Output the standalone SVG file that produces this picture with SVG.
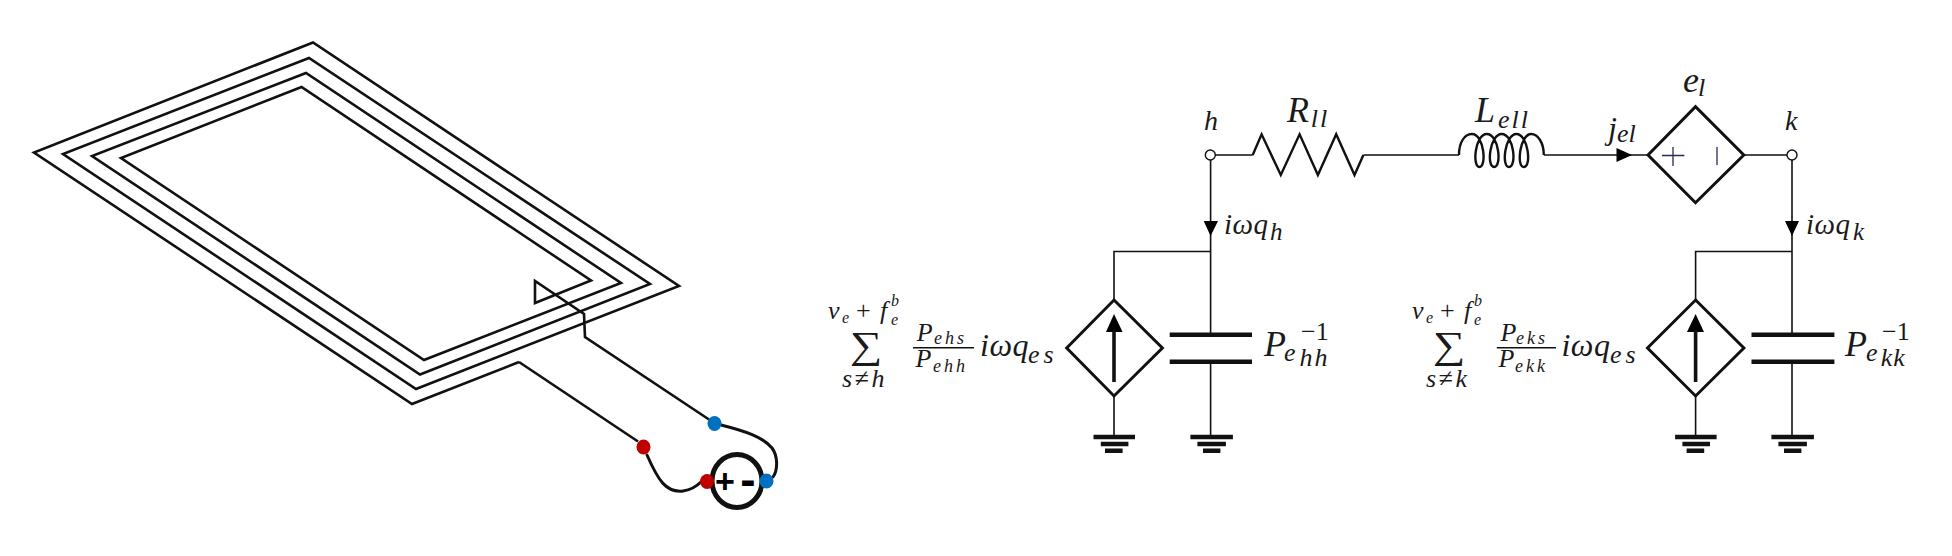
<svg xmlns="http://www.w3.org/2000/svg" xmlns:xlink="http://www.w3.org/1999/xlink" width="1952" height="556" viewBox="0 0 1952 556">
<style>
text{font-family:"Liberation Serif","Times New Roman",serif;fill:#1a1a1a}
.i{font-style:italic}
.w{fill:none;stroke:#111;stroke-width:1.6}
.d{fill:#fff;stroke:#111;stroke-width:3;stroke-linejoin:miter}
.t{fill:none;stroke:#111;stroke-width:2.4;stroke-linejoin:miter}
.p{fill:none;stroke:#111;stroke-width:4.4}
.f{fill:#000}
.s{fill:none;stroke:#111;stroke-width:2.6;stroke-linejoin:miter}
.lead{fill:none;stroke:#111;stroke-width:3;stroke-linecap:round}
.r{fill:#c00000}.b{fill:#0070c0}
.s1{font-size:29px;letter-spacing:.5px}.s2{font-size:25px}.s3{font-size:26px}.s4{font-size:36px}.s5{font-size:26px}.s6{font-size:18px;letter-spacing:3px}.s7{font-size:32px;letter-spacing:.5px}.s8{font-size:16px}.s9{font-size:26px;letter-spacing:2.5px}
.pm{font-family:"Liberation Sans",Arial,sans-serif;font-weight:700;fill:#000;text-anchor:middle}
</style>
<defs>
<g id="gnd-l"><path class="p" d="M-20.5 0H21M-13.2 7H14.4M-9 13.7H8.6"/></g>
<g id="gnd-r"><path class="p" d="M-20.6 0H21.9M-13.6 7H14.9M-8 13.7H9.4"/></g>
</defs>

<g id="coil">
<path class="s" d="M519 362L412 404L34 152.5L313 42.5L679 286L416 389L63 154L309 58L650 284L420 374.5L92 156L306 73L621 283L424 360L121 158L301.5 87L591 280.5L535 303V281L584 314L585 337L709 419.5"/>
<path class="s" d="M519 362L638 441.5"/>
</g>
<g id="source">
<path class="lead" d="M647 455C658 480 666 493 683 491C691 490 698 485 702 481"/>
<path class="lead" d="M721 425C745 431 763 437 772 448C778 456 778 470 773 477"/>
<ellipse cx="737" cy="481" rx="25" ry="26.5" fill="#fff" stroke="#111" stroke-width="5"/>
<text class="pm" font-size="34" x="725" y="493">+</text>
<text class="pm" font-size="46" x="748" y="495">-</text>
<ellipse class="b" cx="714.5" cy="423.5" rx="7" ry="7.5"/>
<ellipse class="r" cx="643.5" cy="447" rx="7" ry="7.5"/>
<ellipse class="r" cx="707" cy="481.5" rx="7" ry="7.5"/>
<ellipse class="b" cx="766.5" cy="481" rx="7" ry="7.5"/>
</g>

<g id="connectors">
<path class="w" d="M1215 155H1252.7M1363.4 155H1459M1543.8 155H1648M1743.8 155H1787"/>
<path class="w" d="M1210.6 160V334M1210.6 362V437M1210.6 251.5H1114V300M1114 396V437"/>
<path class="w" d="M1792 160V334M1792 362V437M1792 251.5H1695.6V300M1695.6 396V437"/>
<path class="f" d="M1203.7 221H1218L1210.6 236ZM1785 221H1799L1792 236ZM1616.5 148L1632 155L1616.5 162Z"/>
</g>

<g id="node-h"><circle cx="1210.3" cy="155" r="5" fill="#fff" stroke="#111" stroke-width="1.4"/><text class="i" font-size="28" x="1204" y="130">h</text></g>
<g id="node-k"><circle cx="1792" cy="155" r="5" fill="#fff" stroke="#111" stroke-width="1.4"/><text class="i" font-size="28" x="1785" y="130">k</text></g>

<g id="resistor"><path class="t" d="M1252.7 155L1261.6 134.3L1280.8 175L1299.6 134.3L1317.9 175L1336.2 134.3L1354.5 175L1363.4 155"/>
<text class="i s4" x="1287" y="121.7">R</text><text class="i s5" x="1310.7" y="126.7" style="letter-spacing:2px">ll</text></g>

<g id="inductor"><path class="t" d="M1459 155C1459 143 1464 134 1472 134C1484 134 1487 167 1479.4 167C1472 167 1475 134 1486.8 134C1499 134 1502 167 1494.2 167C1486 167 1490 134 1501.6 134C1514 134 1517 167 1509 167C1501 167 1505 134 1516.4 134C1528 134 1532 167 1523.8 167C1516 167 1520 134 1531.2 134C1538 134 1543.8 143 1543.8 155"/>
<text class="i s4" x="1475" y="122">L</text><text class="i s5" x="1498" y="128" style="letter-spacing:2px">ell</text></g>

<g id="current-jel"><text class="i s7" x="1608" y="139">j</text><text class="i s3" x="1617" y="141.7">el</text></g>

<g id="source-el"><path class="d" d="M1648 155L1695.5 106.7L1743.8 155L1695.5 202.7Z"/>
<path fill="none" stroke="#2a2a55" stroke-width="1.3" d="M1662 155.5H1684.4M1673 147V166M1717 147V165"/>
<text class="i s4" x="1683" y="91.7">e</text><text class="i s5" x="1698" y="96">l</text></g>

<g id="branch-h">
<path class="d" d="M1114 300L1162.4 348L1114 396L1066.7 348Z"/>
<path class="f" d="M1114 314L1122.6 332H1106Z"/><path class="w" style="stroke-width:3.6" d="M1114 330V382"/>
<path class="p" d="M1169.7 334.7H1252M1169.7 361.7H1252"/>
<use xlink:href="#gnd-l" href="#gnd-l" x="1114" y="437"/><use xlink:href="#gnd-r" href="#gnd-r" x="1211" y="437"/>
<text class="i s1" x="1224" y="234">iωq</text><text class="i s2" x="1270" y="240">h</text>
<text class="i s3" x="828" y="319">v</text><text class="i s8" x="842" y="323">e</text><text class="s3" x="856" y="319">+</text><text class="i s3" x="880" y="319">f</text><text class="i s8" x="891" y="325">e</text><text class="i s8" x="891" y="306">b</text>
<text font-size="38" transform="translate(850 358) scale(1.2 1)">∑</text>
<text class="i s9" x="842" y="387">s≠h</text>
<path class="w" d="M913 347.7H974"/>
<text class="i s5" x="916.7" y="340.7">P</text><text class="i s6" x="934" y="344">ehs</text>
<text class="i s5" x="915.6" y="366.7">P</text><text class="i s6" x="933" y="371.7">ehh</text>
<text class="i s7" x="980" y="355.7">iωq</text><text class="i s3" style="letter-spacing:4px" x="1028" y="362.7">es</text>
<text class="i s4" x="1264" y="356">P</text><text class="i s5" x="1284" y="360.7">e</text><text class="i s5" x="1299.4" y="365.7" style="letter-spacing:2px">hh</text><text class="s5" x="1301" y="340">−1</text>
</g>

<g id="branch-k">
<path class="d" d="M1695.6 300L1743.9 348L1695.6 396L1647.5 348Z"/>
<path class="f" d="M1695.6 314L1704 332H1687Z"/><path class="w" style="stroke-width:3.6" d="M1695.6 330V382"/>
<path class="p" d="M1751.5 334.7H1834.4M1751.5 361.7H1834.4"/>
<use xlink:href="#gnd-l" href="#gnd-l" x="1695.6" y="437"/><use xlink:href="#gnd-r" href="#gnd-r" x="1792" y="437"/>
<text class="i s1" x="1806" y="234">iωq</text><text class="i s2" x="1853" y="240">k</text>
<text class="i s3" x="1412" y="319">v</text><text class="i s8" x="1426" y="323">e</text><text class="s3" x="1440" y="319">+</text><text class="i s3" x="1464" y="319">f</text><text class="i s8" x="1474" y="325">e</text><text class="i s8" x="1474" y="306">b</text>
<text font-size="38" transform="translate(1433 358) scale(1.2 1)">∑</text>
<text class="i s9" x="1426" y="387">s≠k</text>
<path class="w" d="M1496.8 347.7H1556"/>
<text class="i s5" x="1500.4" y="340.7">P</text><text class="i s6" x="1516" y="344">eks</text>
<text class="i s5" x="1498.6" y="366.7">P</text><text class="i s6" x="1515" y="371.7">ekk</text>
<text class="i s7" x="1561.4" y="355.7">iωq</text><text class="i s3" style="letter-spacing:4px" x="1610" y="362.7">es</text>
<text class="i s4" x="1845" y="356">P</text><text class="i s5" x="1866" y="360.7">e</text><text class="i s5" x="1880.7" y="365.7" style="letter-spacing:1px">kk</text><text class="s5" x="1882" y="340">−1</text>
</g>
</svg>
